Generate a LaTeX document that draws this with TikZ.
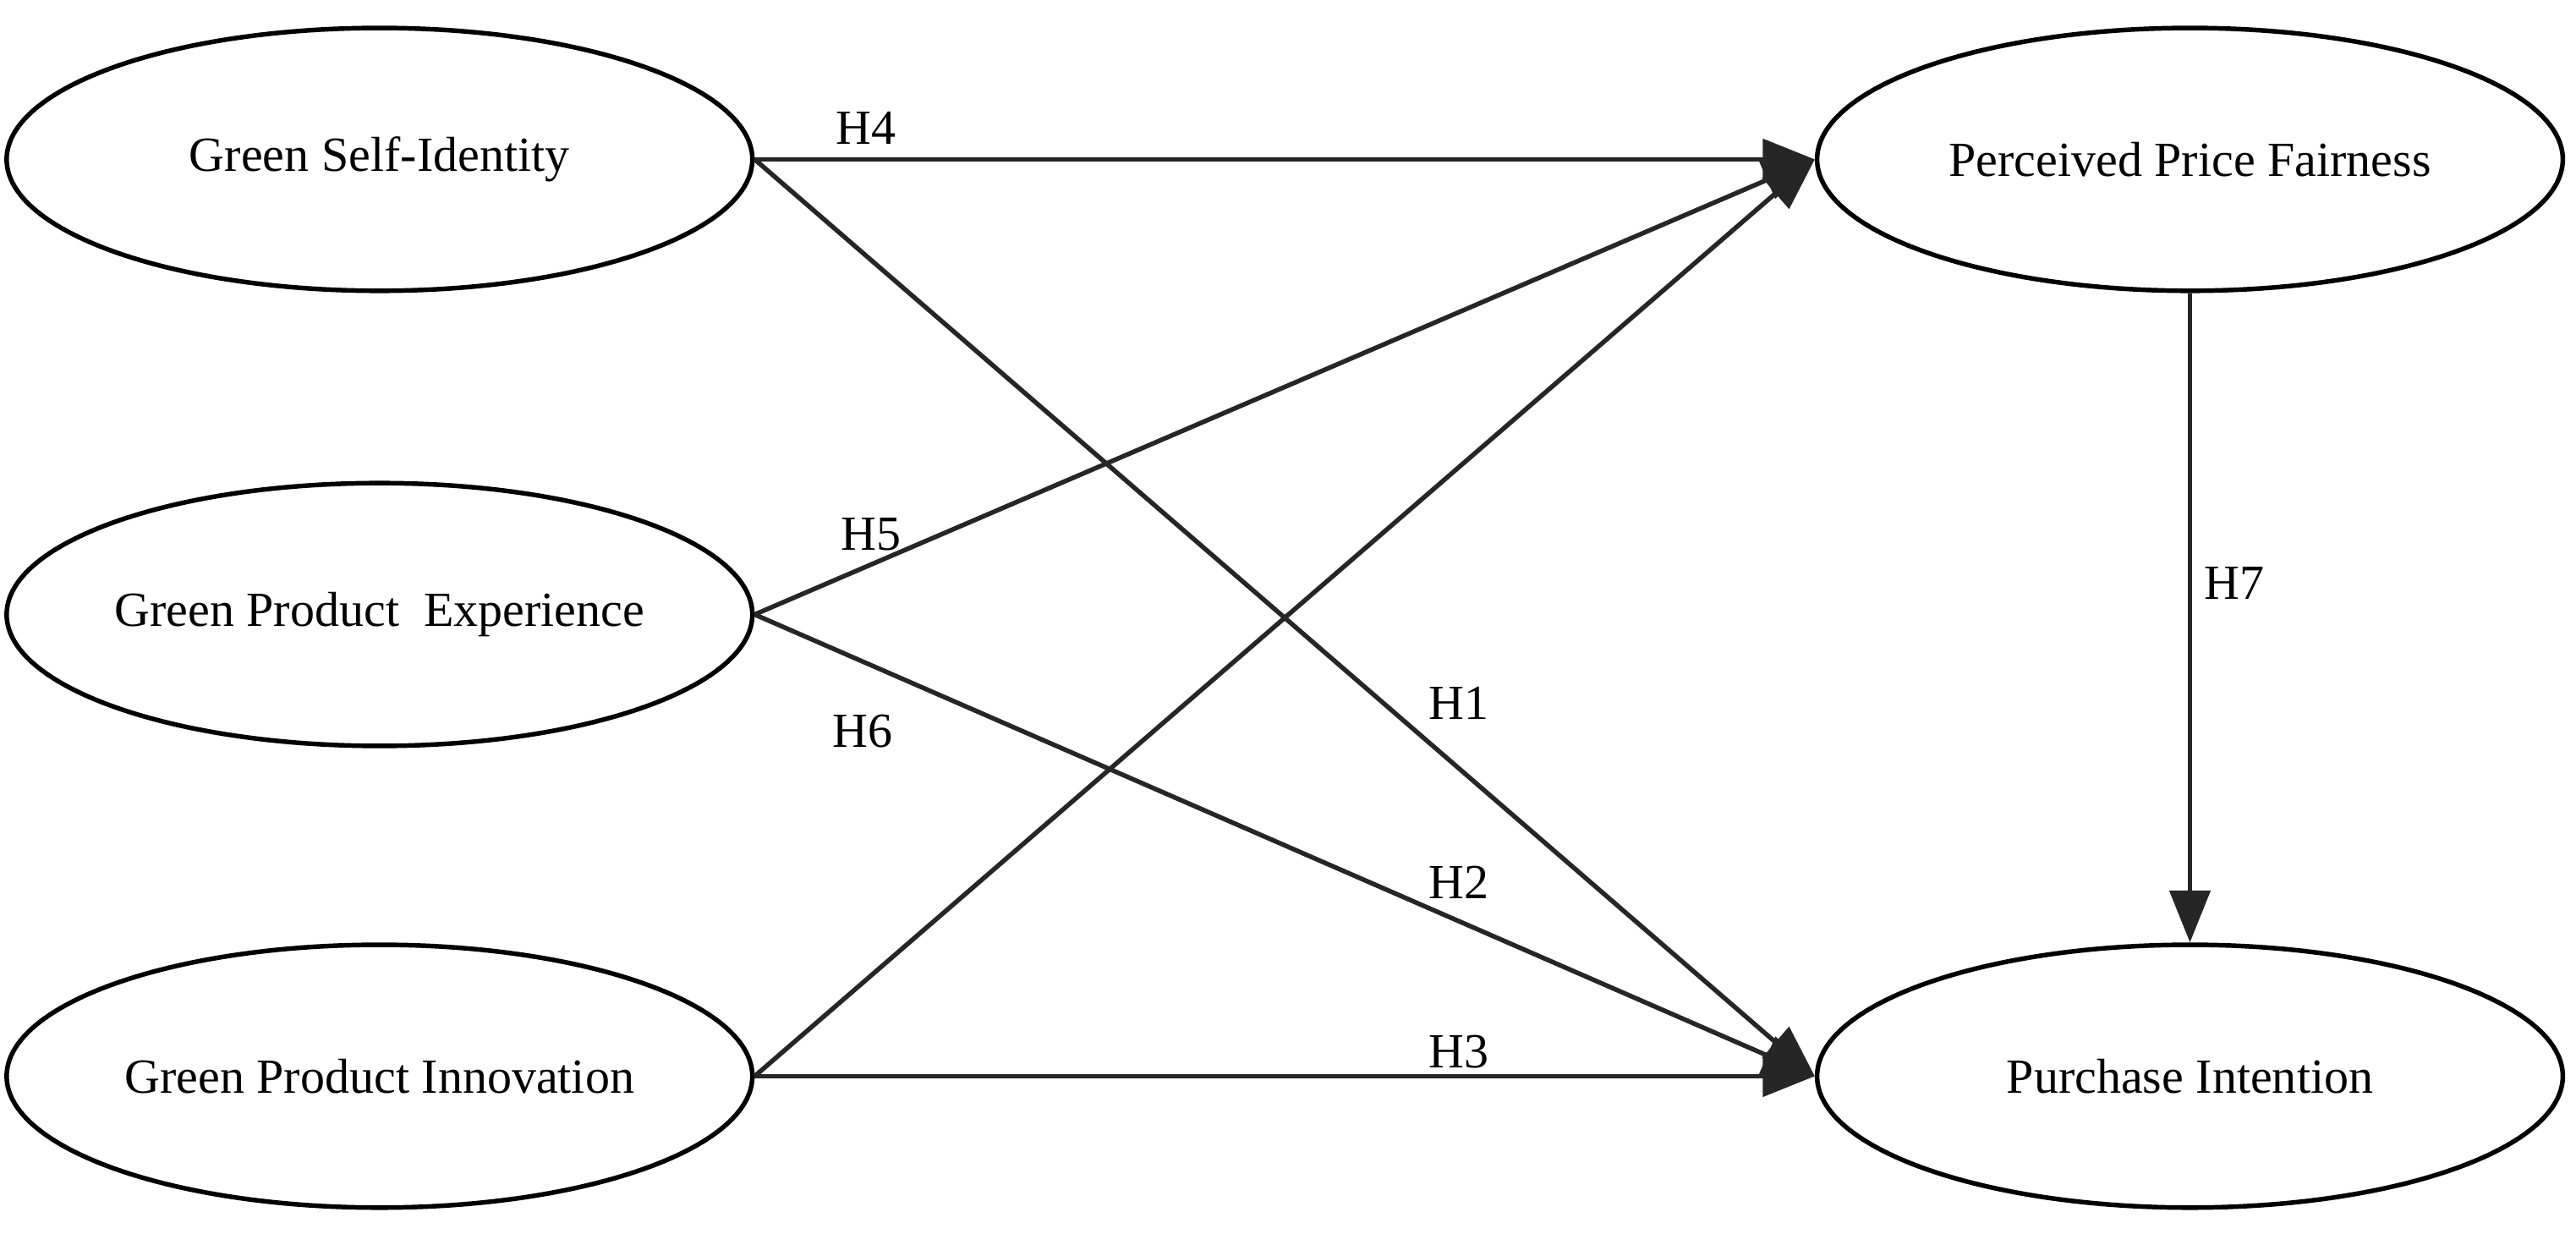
\documentclass[tikz,border=0pt]{standalone}
\usepackage{fontspec}
\setmainfont{Liberation Serif}
\usetikzlibrary{arrows.meta,shapes.geometric}
\begin{document}
\begin{tikzpicture}[x=0.02cm,y=-0.02cm,
  lat/.style={draw,line width=1.6pt,ellipse,minimum width=9.08cm,minimum height=3.2cm,inner sep=0pt,
    label={[font=\fontsize{17}{20}\selectfont]center:#1}},
  path/.style={line width=1.6pt,draw=black!85,-{Triangle[length=18pt,width=14pt]}},
  lab/.style={font=\fontsize{17}{20}\selectfont}]
\useasboundingbox (0,0) rectangle (1568,751);
\node[lat={Green Self-Identity}] (gsi) at (231,97) {};
\node[lat={Green Product\ \ Experience}] (gpe) at (231,374) {};
\node[lat={Green Product Innovation}] (gpi) at (231,655) {};
\node[lat={Perceived Price Fairness}] (ppf) at (1333,97) {};
\node[lat={Purchase Intention}] (pi) at (1333,655) {};
\draw[path] (gsi.east) -- (ppf.west);
\draw[path] (gsi.east) -- (pi.west);
\draw[path] (gpe.east) -- (ppf.west);
\draw[path] (gpe.east) -- (pi.west);
\draw[path] (gpi.east) -- (ppf.west);
\draw[path] (gpi.east) -- (pi.west);
\draw[path] (ppf.south) -- (pi.north);
\node[lab] (h4) at (527,78) {H4};
\node[lab] (h5) at (530,325) {H5};
\node[lab] (h6) at (525,445) {H6};
\node[lab] (h1) at (888,428) {H1};
\node[lab] (h2) at (888,537) {H2};
\node[lab] (h3) at (888,640) {H3};
\node[lab] (h7) at (1360,355) {H7};
\end{tikzpicture}
\end{document}
